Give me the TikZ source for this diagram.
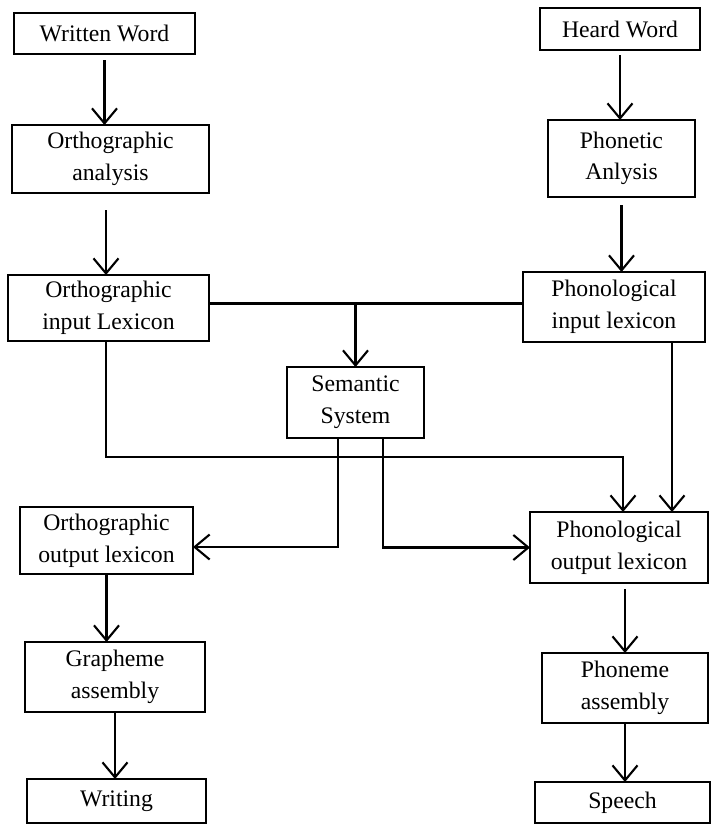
\documentclass[tikz,border=0pt]{standalone}
\usepackage{fontspec}
\setmainfont{Liberation Serif}
\usetikzlibrary{arrows.meta,positioning,calc}

\begin{document}
\begin{tikzpicture}[
  x=0.2mm,
  y=-0.2mm,
  font=\fontsize{13.5}{18}\selectfont,
  blk/.style={
    draw,
    line width=1.3pt,
    align=center,
    inner sep=1pt,
    outer sep=0pt
  },
  flow/.style={
    line width=1.2pt,
    -{Straight Barb[length=3mm,width=5mm,line width=1.2pt]}
  },
  plain/.style={line width=1.2pt}
]

\useasboundingbox (0,0) rectangle (711,825);

\node[blk, minimum width=36.2mm, minimum height=8.2mm] (written) at (104.5,33.5)
  {Written Word};

\node[blk, minimum width=32mm, minimum height=8.4mm] (heard) at (620,29)
  {Heard Word};

\node[blk, minimum width=39.4mm, minimum height=13.6mm] (orthana) at (110.5,159)
  {Orthographic\\analysis};

\node[blk, minimum width=29.4mm, minimum height=15.4mm] (phonana) at (621.5,158.5)
  {Phonetic\\Anlysis};

\node[blk, minimum width=40.2mm, minimum height=13.2mm] (orthin) at (108.5,308)
  {Orthographic\\input Lexicon};

\node[blk, minimum width=36.4mm, minimum height=14mm] (phonin) at (614,307)
  {Phonological\\input lexicon};

\node[blk, minimum width=27.4mm, minimum height=14.2mm] (semantic) at (355.5,402.5)
  {Semantic\\System};

\node[blk, minimum width=34.6mm, minimum height=13.4mm] (orthout) at (106.5,540.5)
  {Orthographic\\output lexicon};

\node[blk, minimum width=35.6mm, minimum height=14.2mm] (phonout) at (619,547.5)
  {Phonological\\output lexicon};

\node[blk, minimum width=36mm, minimum height=14mm] (grapheme) at (115,677)
  {Grapheme\\assembly};

\node[blk, minimum width=33.2mm, minimum height=14mm] (phoneme) at (625,688)
  {Phoneme\\assembly};

\node[blk, minimum width=35.8mm, minimum height=8.8mm] (writing) at (116.5,801)
  {Writing};

\node[blk, minimum width=35mm, minimum height=8.2mm] (speech) at (622.5,802.5)
  {Speech};

\coordinate (bend) at (623,457);
\coordinate (tee) at ([yshift=0.9mm]orthin.east);

% input routes
\draw[flow, shorten <=1.2mm] (written.south) -- (written.south |- orthana.north);
\draw[flow, shorten <=3.4mm] ([xshift=-0.9mm]orthana.south) -- ([xshift=-0.9mm]orthana.south |- orthin.north);
\draw[flow, shorten <=1mm] (heard.south) -- (heard.south |- phonana.north);
\draw[flow, shorten <=1.6mm] (phonana.south) -- (phonana.south |- phonin.north);

\draw[plain] (tee) -- (tee -| phonin.west);
\draw[flow] (semantic.north |- tee) -- (semantic.north);

\draw[flow] ([xshift=-0.5mm]orthin.south) |- (bend) -- (bend |- phonout.north);
\draw[flow] ([xshift=11.6mm]phonin.south) -- ([xshift=11.6mm]phonin.south |- phonout.north);

% semantic outputs
\draw[flow] ([xshift=-3.5mm]semantic.south) |- ([yshift=-1.3mm]orthout.east);
\draw[flow] ([xshift=5.5mm]semantic.south) |- (phonout);

% output routes
\draw[flow] (orthout.south) -- (orthout.south |- grapheme.north);
\draw[flow] (grapheme.south) -- (grapheme.south |- writing.north);
\draw[flow, shorten <=1.2mm] (phoneme.north |- phonout.south) -- (phoneme.north);
\draw[flow] (phoneme.south) -- (phoneme.south |- speech.north);

\end{tikzpicture}
\end{document}
